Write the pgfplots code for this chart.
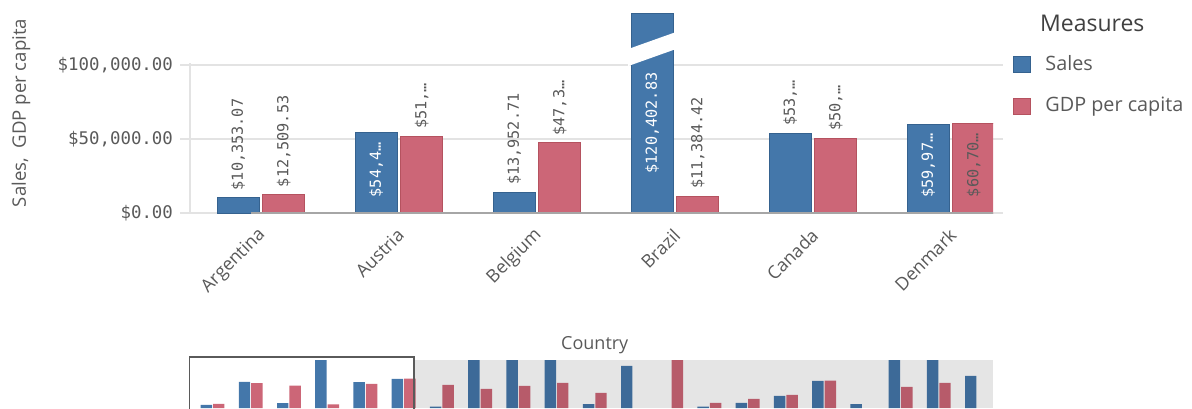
\documentclass[border=0pt]{standalone}
\usepackage{fontspec}
\setmainfont{Open Sans}
\newfontfamily\monofont{DejaVu Sans Mono}
\usepackage{pgfplots}
\usepackage{pgfplotstable}
\pgfplotsset{compat=1.18}

\definecolor{qblue}{HTML}{4477AA}
\definecolor{qblueedge}{HTML}{35628F}
\definecolor{qred}{HTML}{CC6677}
\definecolor{qrededge}{HTML}{B5525F}
\definecolor{gridgray}{HTML}{E3E3E3}
\definecolor{axisgray}{HTML}{A6A6A6}
\definecolor{txtgray}{HTML}{595959}
\definecolor{framegray}{HTML}{5A5A5A}

\newcommand\tickfont{\monofont\fontsize{8.7}{10}\selectfont}
\newcommand\valfont{\monofont\fontsize{7.6}{9}\selectfont}
\newcommand\catfont{\fontsize{9}{11}\selectfont}
\newcommand\legfont{\fontsize{9.9}{12}\selectfont}

% main chart (6 countries in view)
\pgfplotstableread{
x sales gdp
0 10353.07 12509.53
1 54450 51900
2 13952.71 47300
3 120402.83 11384.42
4 53900 50600
5 59970 60700
}\maindata

% scroll navigator (all countries)
\pgfplotstableread{
x sales gdp
0 10353.07 12509.53
1 54450 51900
2 13952.71 47300
3 120402.83 11384.42
4 53900 50600
5 59970 60700
6 7000 48600
7 120000 41000
8 120000 46700
9 120000 52400
10 12200 33300
11 85000 nan
12 nan 120000
13 7000 14200
14 14200 21800
15 27500 29500
16 56200 56800
17 12200 nan
18 120000 44800
19 120000 52400
20 65800 nan
}\navdata

\tikzset{
  outlab/.style={yshift=3.5pt, rotate=90, anchor=west, inner sep=0pt, font=\valfont, text=txtgray},
  inlab/.style={yshift=1.5pt, rotate=90, anchor=center, inner sep=0pt, font=\valfont, text=white},
}

\begin{document}
\begin{tikzpicture}
\path[use as bounding box] (0,0) rectangle (596pt,204pt);

\begin{axis}[
  at={(95pt,97.5pt)}, anchor=south west,
  scale only axis, width=401.5pt, height=100pt,
  xmin=-0.514, xmax=5.304, ymin=0, ymax=135135,
  clip mode=individual,
  axis line style={draw=none},
  ymajorgrids, grid style={gridgray, line width=0.6pt},
  tick align=outside, major tick length=5pt,
  scaled y ticks=false,
  ytick={0,50000,100000},
  yticklabels={{\$0.00},{\$50,000.00},{\$100,000.00}},
  ytick style={gridgray, line width=0.6pt},
  yticklabel style={font=\tickfont, text=txtgray},
  xtick={0,1,2,3,4,5},
  xticklabels={Argentina,Austria,Belgium,Brazil,Canada,Denmark},
  xtick style={draw=none},
  xticklabel style={xshift=1pt, yshift=-4.5pt, rotate=45, anchor=east, inner sep=0pt, font=\catfont, text=txtgray},
  ylabel={Sales,\ \ GDP per capita},
  ylabel style={at={(axis description cs:-0.2105,0.5)}, anchor=center, font=\fontsize{9.3}{11}\selectfont, text=txtgray},
  xlabel={Country},
  xlabel style={at={(axis description cs:0.504,-0.66)}, anchor=center, font=\catfont, text=txtgray},
  legend style={at={(axis description cs:1.0249,0.80)}, anchor=north west, draw=none, fill=none,
    inner sep=0pt, row sep=10pt, font=\legfont, text=txtgray, nodes={inner sep=1pt},
    /tikz/every odd column/.append style={column sep=6pt}},
  legend cell align=left,
  legend image code/.code={\draw[#1] (0pt,-4pt) rectangle (8.5pt,4pt);},
]
\addplot[ybar, bar width=0.305, bar shift=-0.165, fill=qblue, draw=qblueedge, line width=0.5pt]
  table[x=x, y=sales] {\maindata};
\addlegendentry{Sales}
\addplot[ybar, bar width=0.305, bar shift=0.165, fill=qred, draw=qrededge, line width=0.5pt]
  table[x=x, y=gdp] {\maindata};
\addlegendentry{GDP per capita}

% axis lines
\draw[gridgray, line width=0.6pt] (axis cs:-0.514,0) -- (axis cs:-0.514,101500);
\draw[axisgray, line width=0.6pt] (rel axis cs:0,0) ++(-5pt,0) -- (rel axis cs:1,0);

% Brazil bar runs out of range: cap and break
\fill[qblue] (axis cs:2.6825,119000) rectangle (axis cs:2.9875,135135);
\draw[qblueedge, line width=0.5pt] (axis cs:2.6825,119000) -- (axis cs:2.6825,135135)
  -- (axis cs:2.9875,135135) -- (axis cs:2.9875,119000);
\fill[white] (axis cs:2.66,99255) -- (axis cs:3.005,110720) -- (axis cs:3.005,122206)
  -- (axis cs:2.66,110745) -- cycle;

% value labels
\node[outlab] at (axis cs:-0.165,10353.07) {\$10,353.07};
\node[outlab] at (axis cs:0.165,12509.53) {\$12,509.53};
\node[outlab] at (axis cs:1.165,51900) {\$51,…};
\node[outlab] at (axis cs:1.835,13952.71) {\$13,952.71};
\node[outlab] at (axis cs:2.165,47300) {\$47,3…};
\node[outlab] at (axis cs:3.165,11384.42) {\$11,384.42};
\node[outlab] at (axis cs:3.835,53900) {\$53,…};
\node[outlab] at (axis cs:4.165,50600) {\$50,…};
\node[inlab] at (axis cs:0.835,27225) {\$54,4…};
\node[inlab] at (axis cs:2.835,58800) {\$120,402.83};
\node[inlab] at (axis cs:4.835,29985) {\$59,97…};
\node[inlab, text=txtgray] at (axis cs:5.165,30350) {\$60,70…};
\end{axis}

\node[anchor=base west, font=\fontsize{11.5}{14}\selectfont, text=black!75] at (516.5pt,188pt) {Measures};

\begin{axis}[
  at={(95pt,0pt)}, anchor=south west,
  scale only axis, width=401.5pt, height=24pt,
  xmin=-0.589, xmax=20.419, ymin=4600, ymax=96000,
  hide axis, clip mode=individual,
]
\addplot[ybar, bar width=0.3, bar shift=-0.163, fill=qblue, draw=none]
  table[x=x, y=sales] {\navdata};
\addplot[ybar, bar width=0.3, bar shift=0.163, fill=qred, draw=none]
  table[x=x, y=gdp] {\navdata};
\fill[black, opacity=0.1] (axis cs:5.272,4600) rectangle (axis cs:20.419,96000);
\end{axis}
\draw[framegray, line width=0.6pt] (94.75pt,-5pt) -- (94.75pt,25.5pt) -- (207pt,25.5pt) -- (207pt,-5pt);
\end{tikzpicture}
\end{document}
